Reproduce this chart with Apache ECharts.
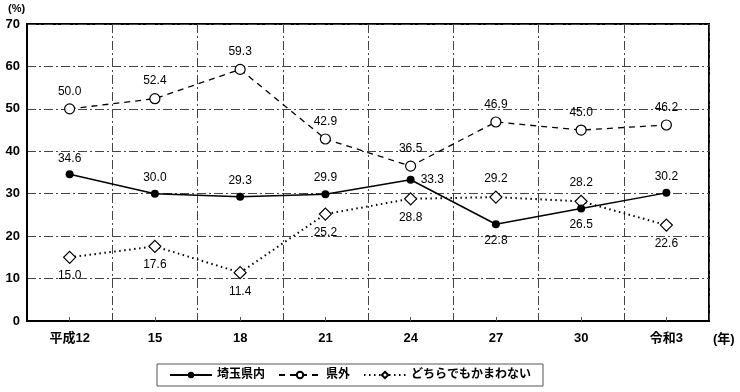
<!DOCTYPE html>
<html><head><meta charset="utf-8">
<script src="https://cdn.jsdelivr.net/npm/echarts@6/dist/echarts.min.js"></script>
<style>html,body{margin:0;padding:0;background:#fff}#c{width:740px;height:392px}</style>
</head><body><div id="c"></div>
<script>
const categories = ['平成12','15','18','21','24','27','30','令和3'];
const saitama = [34.6, 30.0, 29.3, 29.9, 33.3, 22.8, 26.5, 30.2];
const kengai = [50.0, 52.4, 59.3, 42.9, 36.5, 46.9, 45.0, 46.2];
const dochira = [15.0, 17.6, 11.4, 25.2, 28.8, 29.2, 28.2, 22.6];
const yTicks = [0,10,20,30,40,50,60,70];
const seriesNames = ['埼玉県内','県外','どちらでもかまわない'];

const saitamaPos = ['top','top','top','top','right','bottom','bottom','top'];
const dochiraPos = ['bottom','bottom','bottom','bottom','bottom','top','top','bottom'];
const FONT = '"Liberation Sans","Noto Sans CJK JP",sans-serif';

function withPos(vals, pos){ return vals.map((v,i)=>({value:v,label:{position:pos[i]}})); }

const chart = echarts.init(document.getElementById('c'));
chart.setOption({
  animation:false,
  textStyle:{fontFamily:FONT},
  grid:{left:27,right:31,top:24,bottom:71,show:true,borderColor:'#000',borderWidth:2,backgroundColor:'transparent'},
  xAxis:{type:'category',data:categories,boundaryGap:true,
    axisLine:{lineStyle:{color:'#000',width:2}},
    axisTick:{show:true,inside:true,alignWithLabel:true,length:4,lineStyle:{color:'#555'}},
    axisLabel:{color:'#000',fontSize:13,fontWeight:'bold',margin:11,fontFamily:FONT},
    splitLine:{show:true,lineStyle:{color:'#444',width:1,type:[9,3,2,3]}}
  },
  yAxis:{type:'value',min:yTicks[0],max:yTicks[yTicks.length-1],interval:10,
    axisLine:{show:true,lineStyle:{color:'#000',width:2}},
    axisTick:{show:false},
    axisLabel:{color:'#000',fontSize:13,fontWeight:'bold',margin:7,fontFamily:FONT},
    splitLine:{show:true,lineStyle:{color:'#444',width:1,type:[9,3,2,3]}}
  },
  legend:{left:157,top:364,itemWidth:42,itemHeight:8,itemGap:13,padding:[5,12,5,12],
    borderColor:'#555',borderWidth:1,
    textStyle:{color:'#000',fontSize:12,fontWeight:'bold',fontFamily:FONT},
    data:seriesNames},
  graphic:[
    {type:'text',left:8,top:3,style:{text:'(%)',font:'bold 11px '+FONT,fill:'#000'}},
    {type:'text',left:713,top:333,style:{text:'(年)',font:'bold 13px '+FONT,fill:'#000'}}
  ],
  series:[
    {name:seriesNames[0],type:'line',data:withPos(saitama,saitamaPos),symbol:'circle',symbolSize:8,
      itemStyle:{color:'#000'},lineStyle:{color:'#000',width:1.5},
      label:{show:true,formatter:p=>p.value.toFixed(1),color:'#000',fontSize:12,distance:6,fontFamily:FONT},z:5},
    {name:seriesNames[1],type:'line',data:kengai,symbol:'circle',symbolSize:10,
      itemStyle:{color:'#fff',borderColor:'#000',borderWidth:1.2},lineStyle:{color:'#000',width:1.3,type:[6,5]},
      label:{show:true,position:'top',formatter:p=>p.value.toFixed(1),color:'#000',fontSize:12,distance:6,fontFamily:FONT},z:4},
    {name:seriesNames[2],type:'line',data:withPos(dochira,dochiraPos),symbol:'diamond',symbolSize:12,
      itemStyle:{color:'#fff',borderColor:'#000',borderWidth:1.2},lineStyle:{color:'#000',width:2,type:[1.5,3.5]},
      label:{show:true,formatter:p=>p.value.toFixed(1),color:'#000',fontSize:12,distance:6,fontFamily:FONT},z:3}
  ]
});
</script></body></html>
